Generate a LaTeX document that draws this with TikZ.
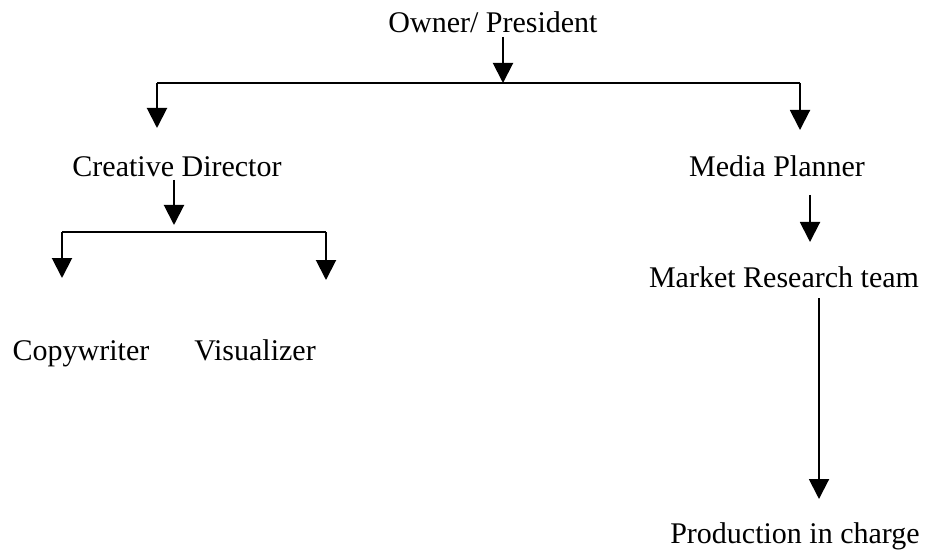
\documentclass[tikz,border=0pt]{standalone}
\usepackage{fontspec}
\setmainfont{Liberation Serif}
\usetikzlibrary{arrows.meta}
\begin{document}
\begin{tikzpicture}[x=0.75pt,y=-0.75pt,
  lbl/.style={anchor=base,inner sep=0pt,font=\fontsize{22.5}{26}\selectfont},
  conn/.style={line width=1.5pt},
  arr/.style={conn,-{Triangle[width=15pt,length=15pt]}}]
\useasboundingbox (0,0) rectangle (934,552);
% text nodes
\node[lbl] (owner) at (493,33) {Owner/ President};
\node[lbl] (cd) at (177,177) {Creative Director};
\node[lbl] (mp) at (777,177) {Media Planner};
\node[lbl] (mr) at (784,287) {Market Research team};
\node[lbl] (cw) at (81,360) {Copywriter};
\node[lbl] (vis) at (255,360) {Visualizer};
\node[lbl] (prod) at (795,543) {Production in charge};
% junction coordinates
\coordinate (ownerOut) at (503,37);
\coordinate (busA) at (503,83);
\coordinate (busAL) at (157,83);
\coordinate (busAR) at (800,83);
\coordinate (cdIn) at (157,128);
\coordinate (mpIn) at (800,130);
\coordinate (cdOut) at (174,180);
\coordinate (busB) at (174,225);
\coordinate (busBL) at (62,232);
\coordinate (busBR) at (326,232);
\coordinate (cwIn) at (62,278);
\coordinate (visIn) at (326,280);
\coordinate (mpOut) at (810,195);
\coordinate (mrIn) at (810,242);
\coordinate (mrOut) at (819,298);
\coordinate (prodIn) at (819,499);
% connectors
\draw[arr] (ownerOut) -- (busA);
\draw[conn] (busAL) -- (busAR);
\draw[arr] (busAL) -- (cdIn);
\draw[arr] (busAR) -- (mpIn);
\draw[arr] (cdOut) -- (busB);
\draw[conn] (busBL) -- (busBR);
\draw[arr] (busBL) -- (cwIn);
\draw[arr] (busBR) -- (visIn);
\draw[arr] (mpOut) -- (mrIn);
\draw[arr] (mrOut) -- (prodIn);
\end{tikzpicture}
\end{document}
